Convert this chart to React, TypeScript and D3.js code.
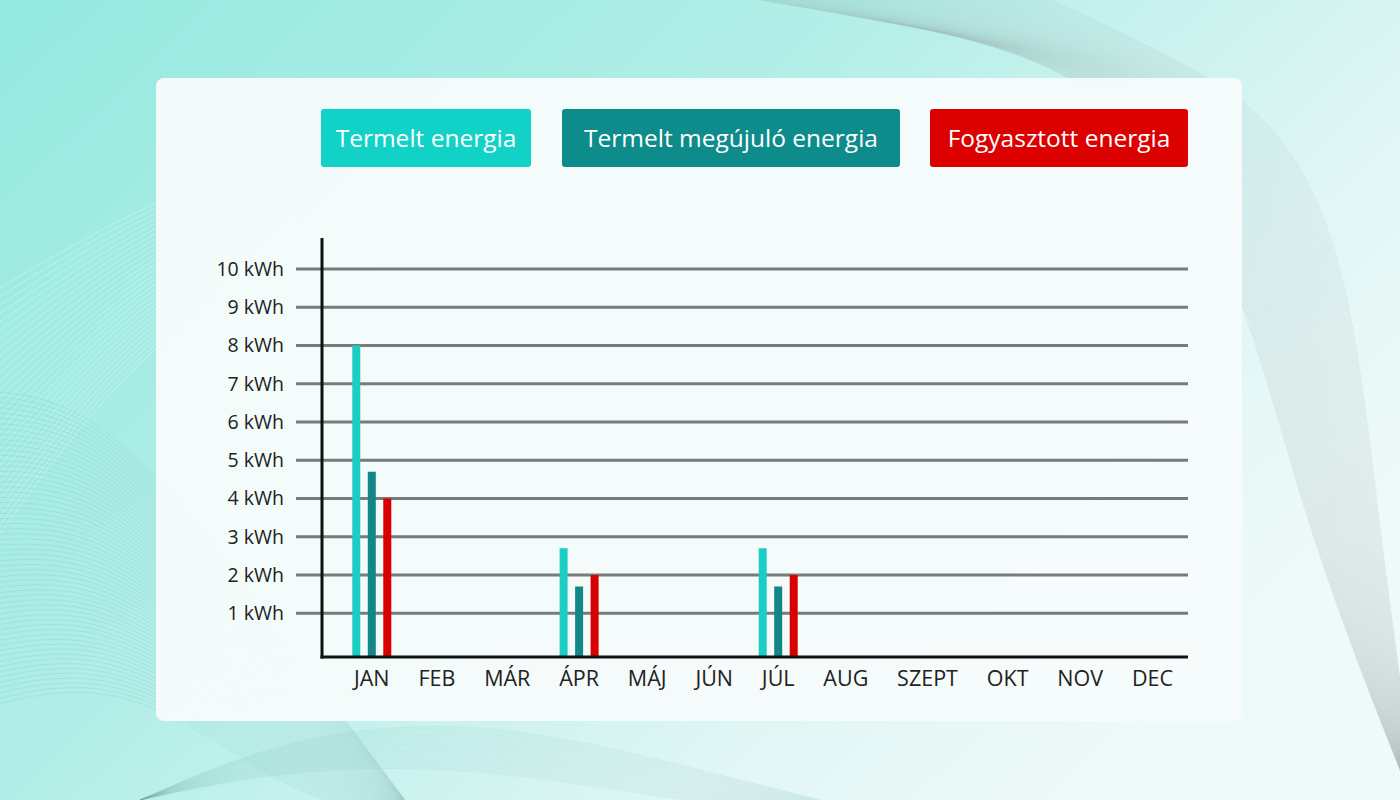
import React, { useEffect, useRef } from "react";
import * as d3 from "d3";

const months = ["JAN", "FEB", "MÁR", "ÁPR", "MÁJ", "JÚN", "JÚL", "AUG", "SZEPT", "OKT", "NOV", "DEC"];
const seriesNames = ["Termelt energia", "Termelt megújuló energia", "Fogyasztott energia"];
const seriesColors = ["#1ccdc4", "#138787", "#d80000"];
const legendColors = ["#12d2c8", "#0e8b8b", "#dc0000"];
const termelt = [8, null, null, 2.7, null, null, 2.7, null, null, null, null, null];
const megujulo = [4.7, null, null, 1.7, null, null, 1.7, null, null, null, null, null];
const fogyasztott = [4, null, null, 2, null, null, 2, null, null, null, null, null];
const yTicks = [1, 2, 3, 4, 5, 6, 7, 8, 9, 10];
const yTickLabels = yTicks.map((v) => `${v} kWh`);

const FONT = "'Open Sans', 'Noto Sans', sans-serif";

export default function App() {
  const ref = useRef<SVGSVGElement | null>(null);

  useEffect(() => {
    const svg = d3.select(ref.current);
    svg.selectAll("*").remove();
    const W = 1400, H = 800;

    // background
    const defs = svg.append("defs");
    const g1 = defs.append("linearGradient").attr("id", "bg").attr("x1", "0").attr("y1", "0").attr("x2", "1").attr("y2", "0.6");
    g1.append("stop").attr("offset", "0").attr("stop-color", "#94e9df");
    g1.append("stop").attr("offset", "0.45").attr("stop-color", "#b2eee7");
    g1.append("stop").attr("offset", "0.8").attr("stop-color", "#e0f6f5");
    g1.append("stop").attr("offset", "1").attr("stop-color", "#eef9f9");
    svg.append("rect").attr("width", W).attr("height", H).attr("fill", "url(#bg)");

    // decorative wave lines
    const line = d3.line<[number, number]>().curve(d3.curveBasis);
    const deco = svg.append("g").attr("fill", "none");
    for (let i = 0; i < 30; i++) {
      const o = i * 9;
      deco.append("path")
        .attr("d", line([[-20, 300 + o], [80, 240 + o * 0.7], [180, 190 + o * 0.5], [300, 150 + o * 0.4]]))
        .attr("stroke", "#ffffff").attr("stroke-opacity", 0.4).attr("stroke-width", 0.8);
    }
    for (let i = 0; i < 60; i++) {
      const o = i * 6;
      deco.append("path")
        .attr("d", line([[-20, 390 + o * 0.9], [80, 400 + o * 0.8], [180, 500 + o * 0.6], [300, 660 + o * 0.4], [420, 820]]))
        .attr("stroke", "#5f9f9a").attr("stroke-opacity", 0.22).attr("stroke-width", 0.7);
    }
    for (let i = 0; i < 25; i++) {
      const o = i * 5;
      deco.append("path")
        .attr("d", line([[140, 800], [300, 730 + o * 0.3], [500, 720 + o * 0.4], [700, 770 + o * 0.3], [900, 820]]))
        .attr("stroke", "#6aa9a4").attr("stroke-opacity", 0.18).attr("stroke-width", 0.7);
    }
    for (let i = 0; i < 70; i++) {
      const t = i / 69;
      deco.append("path")
        .attr("d", line([
          [700 + t * 330, -10],
          [880 + t * 300, 20 + t * 40],
          [1080 + t * 200, 60 + t * 60],
          [1230 + t * 120, 220 + t * 40],
          [1300 + t * 80, 520 + t * 20],
          [1420, 820],
        ]))
        .attr("stroke", "#7e8f8f").attr("stroke-opacity", 0.24).attr("stroke-width", 0.6);
    }

    // card
    svg.append("rect").attr("x", 156).attr("y", 78).attr("width", 1086).attr("height", 643)
      .attr("rx", 8).attr("fill", "#f6fbfb").attr("fill-opacity", 0.97);

    // legend
    const legendBoxes = [
      { x0: 321, x1: 531 },
      { x0: 562, x1: 900 },
      { x0: 930, x1: 1188 },
    ];
    const lg = svg.append("g");
    seriesNames.forEach((name, i) => {
      const b = legendBoxes[i];
      lg.append("rect").attr("x", b.x0).attr("y", 109).attr("width", b.x1 - b.x0).attr("height", 58)
        .attr("rx", 3).attr("fill", legendColors[i]);
      lg.append("text").attr("x", (b.x0 + b.x1) / 2).attr("y", 138).attr("dy", "0.35em")
        .attr("text-anchor", "middle").attr("fill", "#ffffff")
        .attr("font-family", FONT).attr("font-size", 24.5).text(name);
    });

    // scales
    const y = d3.scaleLinear().domain([0, 10]).range([651.5, 269]);
    const plotLeft = 322, plotRight = 1188, baseY = 657;

    // gridlines
    const grid = svg.append("g");
    grid.selectAll("line").data(yTicks).join("line")
      .attr("x1", 296).attr("x2", plotRight)
      .attr("y1", (d) => y(d)).attr("y2", (d) => y(d))
      .attr("stroke", "#767b7b").attr("stroke-width", 3);
    grid.selectAll("text").data(yTicks).join("text")
      .attr("x", 284).attr("y", (d) => y(d)).attr("dy", "0.35em")
      .attr("text-anchor", "end").attr("fill", "#222")
      .attr("font-family", FONT).attr("font-size", 19.5)
      .text((d, i) => yTickLabels[i]);

    // month labels in a flow layout
    const xl = svg.append("g");
    const texts = xl.selectAll("text").data(months).join("text")
      .attr("y", 678).attr("dy", "0.35em").attr("fill", "#222")
      .attr("font-family", FONT).attr("font-size", 21.5).text((d) => d);
    const widths: number[] = [];
    texts.each(function () { widths.push((this as SVGTextElement).getComputedTextLength()); });
    const startX = 354, endX = 1173;
    const totalW = d3.sum(widths);
    const gap = (endX - startX - totalW) / (months.length - 1);
    const centers: number[] = [];
    let cx = startX;
    widths.forEach((w) => { centers.push(cx + w / 2); cx += w + gap; });
    texts.attr("x", (d, i) => centers[i]).attr("text-anchor", "middle");

    // bars
    const inner = d3.scaleBand<number>().domain([0, 1, 2]).range([-23.25, 23.25]).paddingInner(0.484).paddingOuter(0.242);
    const allSeries = [termelt, megujulo, fogyasztott];
    const bars = svg.append("g");
    allSeries.forEach((vals, s) => {
      vals.forEach((v, m) => {
        if (v == null) return;
        bars.append("rect")
          .attr("x", centers[m] + (inner(s) as number))
          .attr("y", y(v))
          .attr("width", inner.bandwidth())
          .attr("height", baseY - y(v))
          .attr("fill", seriesColors[s]);
      });
    });

    // axes
    svg.append("line").attr("x1", plotLeft).attr("x2", plotLeft).attr("y1", 238).attr("y2", baseY + 1.5)
      .attr("stroke", "#111").attr("stroke-width", 3);
    svg.append("line").attr("x1", plotLeft - 1.5).attr("x2", plotRight).attr("y1", baseY).attr("y2", baseY)
      .attr("stroke", "#111").attr("stroke-width", 3);
  }, []);

  return (
    <div style={{ position: "fixed", left: 0, top: 0, width: 1400, height: 800 }}>
      <svg ref={ref} width={1400} height={800} style={{ display: "block" }} />
    </div>
  );
}
